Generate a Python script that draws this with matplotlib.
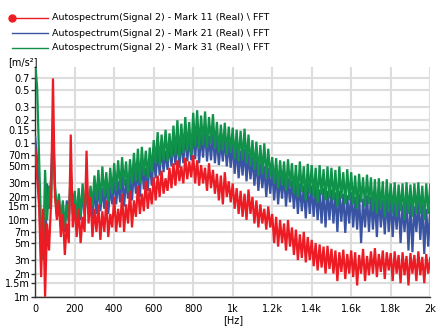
import numpy as np
import matplotlib
matplotlib.use("Agg")
import matplotlib.pyplot as plt
from matplotlib.lines import Line2D
from matplotlib.ticker import FixedLocator, FixedFormatter

# frequency axis, one reading every 10 Hz (0 .. 2000 Hz)
freq = np.arange(0, 2001, 10)

# Autospectrum values, in milli m/s^2 (one row = 100 Hz)
mark11 = [
    90, 35, 15, 1.8, 14, 1.0, 9, 4, 16, 700,
    20, 10, 18, 6, 12, 3.5, 9, 5, 130, 8,
    16, 6, 14, 5, 11, 7, 80, 9, 20, 6,
    14, 7, 16, 5.5, 13, 7, 18, 6, 12, 8,
    20, 7, 14, 8, 22, 7, 16, 9, 24, 8,
    18, 11, 28, 12, 22, 13, 32, 14, 26, 16,
    36, 18, 38, 20, 44, 22, 35, 24, 48, 26,
    55, 28, 60, 32, 50, 30, 65, 34, 58, 36,
    70, 30, 60, 28, 52, 30, 48, 24, 55, 26,
    45, 22, 40, 18, 38, 16, 42, 20, 32, 17,
    30, 14, 26, 12, 24, 11, 22, 10, 25, 12,
    20, 9, 18, 8, 16, 9, 14, 7.5, 15, 8,
    12, 5, 11, 4.5, 10, 5, 9, 4, 10, 4.5,
    8, 3.5, 7.5, 3, 6.5, 3.2, 7, 2.8, 6, 3,
    5.5, 2.5, 5, 2.2, 4.8, 2.4, 4.5, 2, 4.6, 2.3,
    4.2, 2, 4, 1.6, 3.8, 2.1, 4.1, 1.7, 3.6, 2,
    4, 1.8, 3.8, 1.4, 3.5, 2, 4.2, 1.6, 3.4, 1.9,
    3.9, 2, 4.3, 1.8, 3.6, 2.1, 4, 1.7, 3.8, 2.2,
    3.7, 1.6, 3.9, 2, 3.5, 1.5, 3.8, 1.9, 3.4, 1.4,
    3.7, 2, 3.5, 1.6, 3.9, 1.9, 3.3, 1.5, 3.6, 2,
    3.2,
]
mark21 = [
    120, 60, 25, 3, 12, 2.5, 30, 14, 35, 150,
    25, 12, 20, 8, 16, 7, 18, 9, 40, 12,
    22, 9, 20, 10, 25, 11, 28, 12, 24, 10,
    28, 12, 30, 13, 26, 14, 34, 12, 28, 16,
    36, 16, 32, 17, 40, 15, 34, 19, 38, 18,
    45, 22, 50, 20, 58, 25, 48, 24, 60, 28,
    70, 35, 85, 38, 95, 42, 80, 45, 100, 50,
    110, 52, 125, 48, 115, 55, 135, 58, 120, 60,
    140, 62, 165, 55, 130, 65, 150, 58, 125, 60,
    135, 55, 120, 52, 110, 58, 118, 50, 105, 48,
    100, 40, 90, 35, 80, 38, 85, 32, 75, 34,
    66, 28, 62, 24, 55, 26, 50, 20, 48, 22,
    45, 18, 42, 16, 38, 19, 40, 15, 35, 17,
    33, 14, 32, 12, 30, 13, 28, 10.5, 31, 12,
    28, 11, 27, 10, 25, 9, 26, 8, 24, 10,
    25, 9, 23, 7, 24, 9.5, 22, 6.8, 21, 9,
    23, 8, 20, 7.5, 22, 5, 19, 8, 21, 7,
    20, 7.5, 19, 6, 21, 8, 18, 6.5, 20, 7,
    18, 6, 17, 7.5, 19, 5, 16, 7, 18, 4,
    17, 3.8, 15, 7, 18, 5.5, 16, 3.6, 14, 4.5,
    15,
]
mark31 = [
    1150, 520, 60, 8, 3, 45, 10, 28, 14, 165,
    30, 11, 22, 9, 18, 8, 16, 10, 48, 14,
    24, 10, 26, 11, 30, 12, 32, 13, 28, 15,
    38, 18, 45, 16, 50, 20, 42, 17, 48, 22,
    55, 24, 60, 25, 66, 28, 58, 23, 62, 30,
    75, 32, 85, 30, 90, 38, 80, 35, 88, 42,
    110, 55, 140, 52, 130, 60, 150, 58, 135, 65,
    170, 70, 200, 65, 180, 75, 220, 80, 190, 70,
    250, 90, 270, 85, 230, 95, 260, 88, 220, 100,
    240, 85, 190, 75, 175, 80, 185, 70, 165, 75,
    160, 62, 150, 58, 145, 60, 155, 55, 130, 50,
    110, 45, 105, 38, 95, 40, 100, 35, 85, 36,
    66, 30, 64, 26, 60, 28, 58, 24, 62, 27,
    55, 22, 52, 20, 58, 23, 50, 18, 54, 22,
    52, 20, 48, 17, 52, 21, 46, 18, 50, 19,
    48, 18, 45, 15, 50, 19, 42, 16, 46, 18,
    42, 16, 38, 14, 40, 17, 36, 15, 39, 16,
    36, 13, 34, 12, 35, 14, 32, 11, 34, 13,
    30, 12, 31, 11, 29, 13, 30, 10, 31, 12,
    29, 11, 30, 12, 31, 12, 28, 10, 30, 12,
    29,
]

labels = ["Autospectrum(Signal 2) - Mark 11 (Real) \\ FFT",
          "Autospectrum(Signal 2) - Mark 21 (Real) \\ FFT",
          "Autospectrum(Signal 2) - Mark 31 (Real) \\ FFT"]
colors = ["#ED1C24", "#3A54A4", "#10924A"]

yticks = [0.7, 0.5, 0.3, 0.2, 0.15, 0.1, 0.07, 0.05, 0.03, 0.02, 0.015, 0.01,
          0.007, 0.005, 0.003, 0.002, 0.0015, 0.001]
ytick_labels = ["0.7", "0.5", "0.3", "0.2", "0.15", "0.1", "70m", "50m", "30m",
                "20m", "15m", "10m", "7m", "5m", "3m", "2m", "1.5m", "1m"]
xticks = [0, 200, 400, 600, 800, 1000, 1200, 1400, 1600, 1800, 2000]
xtick_labels = ["0", "200", "400", "600", "800", "1k", "1.2k", "1.4k", "1.6k", "1.8k", "2k"]

W, H = 436, 327
fig = plt.figure(figsize=(W / 100, H / 100), dpi=100)
ax = fig.add_axes([35.2 / W, 30.3 / H, 395 / W, 230.1 / H])

series = [np.array(mark11) / 1000, np.array(mark21) / 1000, np.array(mark31) / 1000]
# draw blue, green, then red on top
for i in [1, 2, 0]:
    ax.plot(freq, series[i], color=colors[i], lw=1.6, zorder=3 + (i == 0),
            solid_joinstyle="miter")

ax.set_yscale("log")
ax.set_xlim(0, 2000)
ax.set_ylim(0.001, 1.0)
ax.yaxis.set_major_locator(FixedLocator(yticks))
ax.yaxis.set_major_formatter(FixedFormatter(ytick_labels))
ax.yaxis.set_minor_locator(FixedLocator([]))
ax.set_xticks(xticks)
ax.set_xticklabels(xtick_labels)

ax.grid(True, color="#DDDDDD", lw=1.5, zorder=0)
ax.set_axisbelow(True)
for s in ["top", "right"]:
    ax.spines[s].set_visible(False)
for s in ["left", "bottom"]:
    ax.spines[s].set_color("#333333")
    ax.spines[s].set_linewidth(1.0)
ax.tick_params(axis="y", length=3, width=1, color="#333333", labelsize=7, pad=1)
ax.tick_params(axis="x", length=0, labelsize=7, pad=5)
ax.set_xlabel("[Hz]", fontsize=7, labelpad=1)

fig.text(8 / W, 1 - 62 / H, "[m/s²]", fontsize=7, va="center", ha="left")

# legend drawn at the top left of the figure
rows = [18, 33, 48]
for i in range(3):
    yy = 1 - rows[i] / H
    ln = Line2D([12 / W, 48 / W], [yy, yy], color=colors[i], lw=1.0,
                transform=fig.transFigure)
    if i == 0:
        ln.set_marker("o")
        ln.set_markersize(5)
        ln.set_markevery([0])
    fig.add_artist(ln)
    fig.text(52 / W, yy, labels[i], fontsize=6.8, va="center", ha="left")

fig.savefig("out.png", dpi=100)
